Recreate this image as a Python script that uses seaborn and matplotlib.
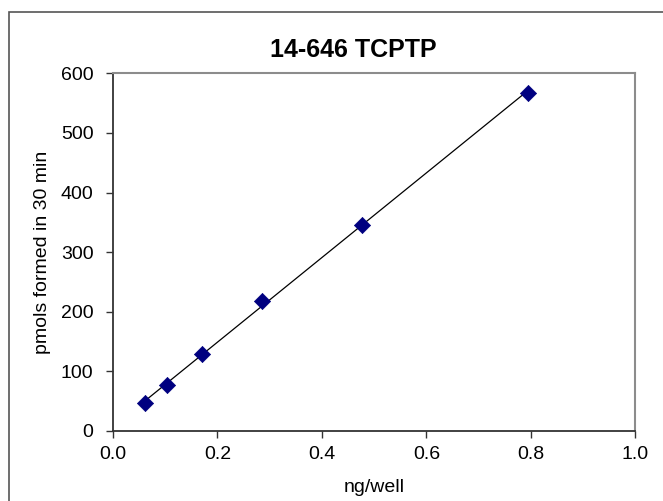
import matplotlib
matplotlib.use("Agg")
import matplotlib.pyplot as plt
import seaborn as sns
import pandas as pd
from matplotlib.patches import Rectangle

# data
ng_per_well = [0.0617, 0.103, 0.171, 0.286, 0.476, 0.794]
pmols_formed = [46, 77, 128, 218, 346, 568]
x_ticks = [0.0, 0.2, 0.4, 0.6, 0.8, 1.0]
y_ticks = [0, 100, 200, 300, 400, 500, 600]

df = pd.DataFrame({"ng/well": ng_per_well, "pmols": pmols_formed})

sns.set_style("white", {"text.color": "black", "axes.labelcolor": "black",
                        "xtick.color": "black", "ytick.color": "black"})
plt.rcParams["font.family"] = ["Liberation Sans", "DejaVu Sans"]

fig = plt.figure(figsize=(6.63, 5.01), dpi=100)
ax = fig.add_axes([0.1704, 0.1407, 0.7881, 0.7126])

# outer chart border (excel style), runs off the right and bottom edges
fig.patches.append(Rectangle((9 / 663, -0.1), 1.2, 1 - 12 / 501 + 0.1, transform=fig.transFigure,
                             fill=False, edgecolor="#555555", linewidth=1.2, zorder=0))

# linear trendline
sns.regplot(data=df, x="ng/well", y="pmols", ax=ax, scatter=False, ci=None, truncate=True,
            line_kws={"color": "black", "linewidth": 0.9})
sns.scatterplot(data=df, x="ng/well", y="pmols", ax=ax, marker="D", s=68,
                color="#000080", edgecolor="#000080", linewidth=0.5, zorder=3)

ax.set_xlim(0, 1.0)
ax.set_ylim(0, 600)
ax.set_xticks(x_ticks)
ax.set_yticks(y_ticks)
ax.set_xticklabels([f"{v:.1f}" for v in x_ticks])
ax.set_yticklabels([str(v) for v in y_ticks])
ax.tick_params(axis="both", labelsize=14, direction="out", length=5, width=1,
               color="#333333", bottom=True, left=True)
ax.tick_params(axis="x", pad=6)
ax.tick_params(axis="y", pad=9)

ax.set_xlabel("ng/well", fontsize=14, labelpad=12)
ax.set_ylabel("pmols formed in 30 min", fontsize=14, labelpad=7)
ax.set_title("14-646 TCPTP", fontsize=18, fontweight="bold", pad=12, x=0.46)

for side in ["left", "bottom"]:
    ax.spines[side].set_color("#333333")
    ax.spines[side].set_linewidth(1.3)
for side in ["top", "right"]:
    ax.spines[side].set_visible(True)
    ax.spines[side].set_color("#8c8c8c")
    ax.spines[side].set_linewidth(1.5)

fig.savefig("out.png", dpi=100)
